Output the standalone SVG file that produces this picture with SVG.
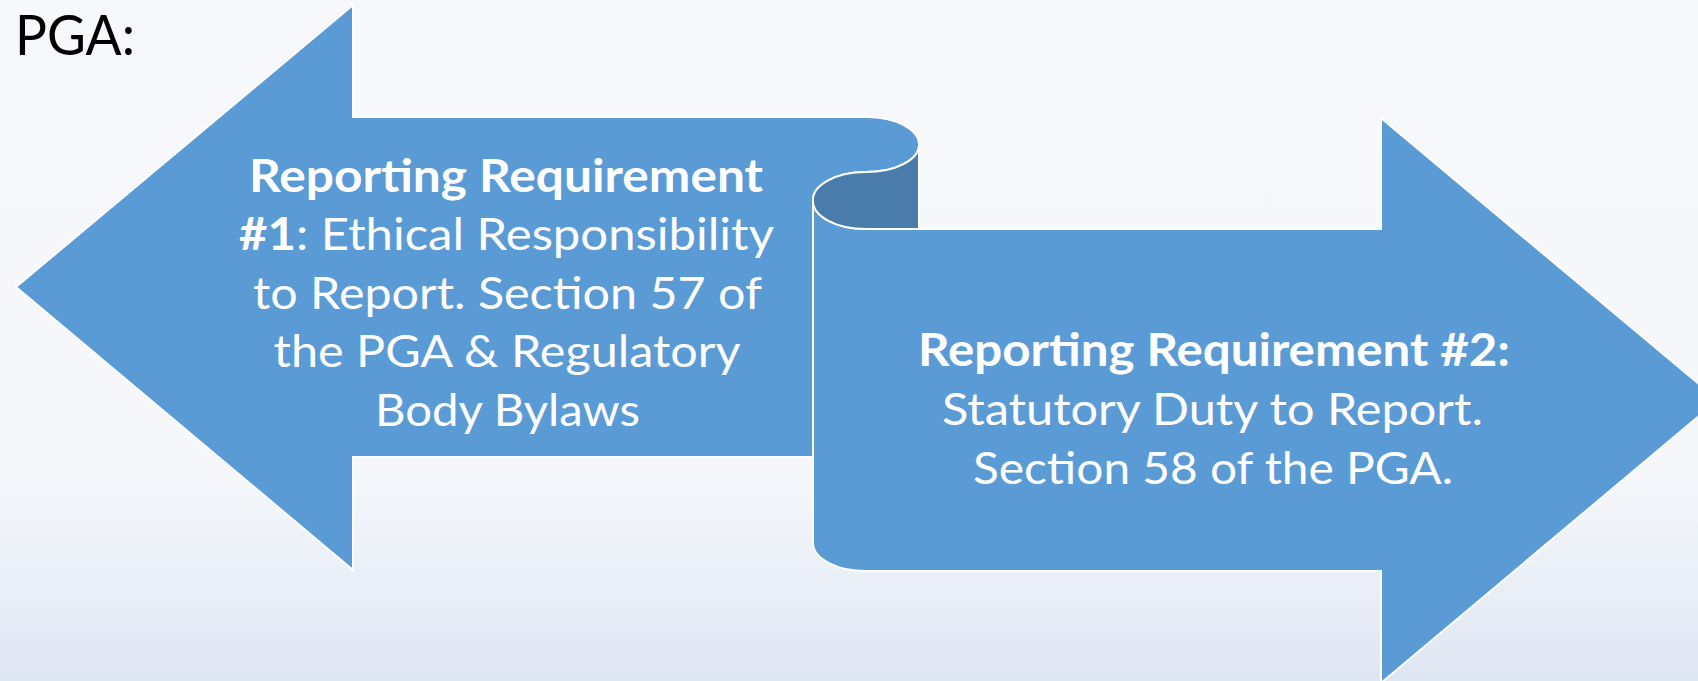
<svg xmlns="http://www.w3.org/2000/svg" width="1698" height="681" viewBox="0 0 1698 681">
  <defs>
    <linearGradient id="bg" x1="0" y1="0" x2="0" y2="1">
      <stop offset="0" stop-color="#F6F8FC"/>
      <stop offset="0.7" stop-color="#F5F7FB"/>
      <stop offset="1" stop-color="#DFE6F3"/>
    </linearGradient>
  </defs>
  <style>
    .shape { fill: #5B9BD5; stroke: #FFFFFF; stroke-width: 2; stroke-linejoin: miter; }
    .curl { fill: #497CAA; stroke: #FFFFFF; stroke-width: 2; }
    .label { font-family: Lato, "Open Sans", sans-serif; font-size: 45px; fill: #FFFFFF; text-anchor: middle; }
    .b { font-weight: bold; }
    .title { font-family: Lato, "Open Sans", sans-serif; font-size: 56px; fill: #000000; }
  </style>

  <rect x="0" y="0" width="1698" height="681" fill="url(#bg)"/>

  <g id="title">
    <text class="title" x="15" y="55" textLength="120" lengthAdjust="spacingAndGlyphs">PGA:</text>
  </g>

  <!-- left-pointing arrow whose shaft rolls into the scroll curl -->
  <g id="req1">
    <path class="shape" d="M16,287 L353,5 L353,117 L866,117 A53,27 0 0,1 919,145 A53,27 0 0,1 866,172 A53,28 0 0,0 813,201 L813,457 L353,457 L353,570 Z"/>
  </g>

  <!-- right-pointing arrow -->
  <g id="req2">
    <path class="shape" d="M813,201 A53,28 0 0,0 866,229 L1381,229 L1381,118 L1718,400 L1381,683 L1381,571 L866,571 A53,28 0 0,1 813,543 Z"/>
    <!-- underside of the curl -->
    <path class="curl" d="M919,145 A53,27 0 0,1 866,172 A53,28 0 0,0 813,201 A53,28 0 0,0 866,229 L919,229 Z"/>
  </g>

  <g id="req1-text">
    <text class="label b" x="506" y="192" textLength="514" lengthAdjust="spacingAndGlyphs">Reporting Requirement</text>
    <text class="label" x="506.5" y="250" textLength="535" lengthAdjust="spacingAndGlyphs"><tspan class="b">#1</tspan>: Ethical Responsibility</text>
    <text class="label" x="507.5" y="308.5" textLength="509" lengthAdjust="spacingAndGlyphs">to Report. Section 57 of</text>
    <text class="label" x="507" y="367" textLength="467" lengthAdjust="spacingAndGlyphs">the PGA &amp; Regulatory</text>
    <text class="label" x="507.5" y="426" textLength="265" lengthAdjust="spacingAndGlyphs">Body Bylaws</text>
  </g>

  <g id="req2-text">
    <text class="label b" x="1214" y="366" textLength="592" lengthAdjust="spacingAndGlyphs">Reporting Requirement #2:</text>
    <text class="label" x="1212.5" y="425" textLength="541" lengthAdjust="spacingAndGlyphs">Statutory Duty to Report.</text>
    <text class="label" x="1213" y="484" textLength="480" lengthAdjust="spacingAndGlyphs">Section 58 of the PGA.</text>
  </g>
</svg>
